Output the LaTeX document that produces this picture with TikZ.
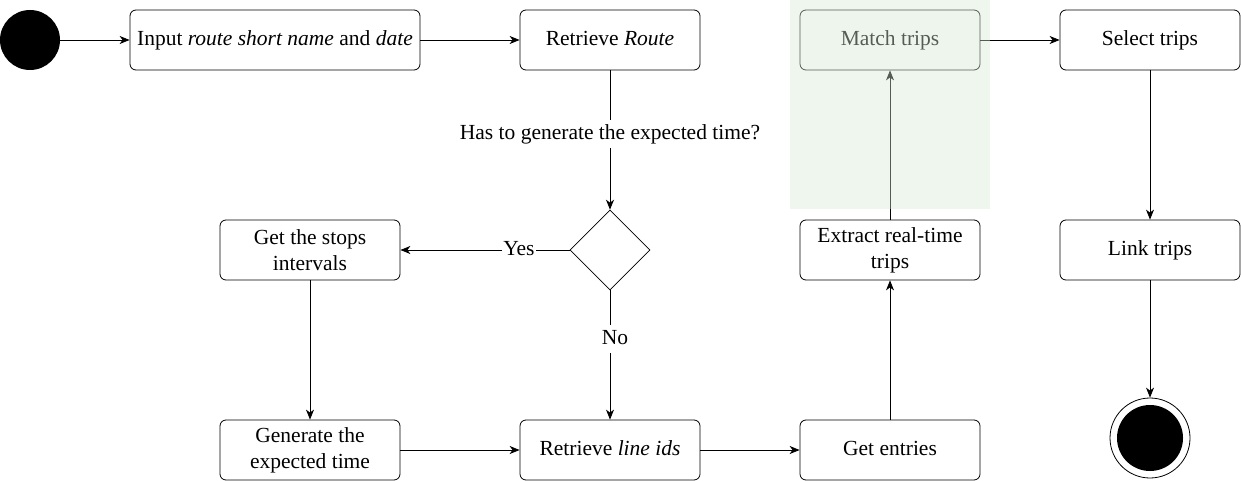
\documentclass[tikz,border=0pt]{standalone}
\usepackage{fontspec}
\setmainfont{Liberation Serif}
\usetikzlibrary{arrows.meta,shapes.geometric}
\definecolor{regiongreen}{RGB}{213,232,212}

\begin{document}
\begin{tikzpicture}[
    x=1pt, y=-1pt,
    act/.style={
      rectangle, rounded corners=6pt, draw=black, line width=0.8pt, fill=white,
      minimum width=180pt, minimum height=60pt,
      align=center, font=\fontsize{21.5}{26}\selectfont,
      inner sep=2pt
    },
    decision/.style={
      diamond, draw=black, line width=0.6pt, fill=white,
      minimum width=80pt, minimum height=80pt, inner sep=0pt
    },
    startnode/.style={
      circle, fill=black, minimum size=60pt, inner sep=0pt
    },
    endnode/.style={
      circle, draw=black, line width=0.8pt, fill=white,
      minimum size=80pt, inner sep=0pt,
      path picture={\fill[black] (path picture bounding box.center) circle (33pt);}
    },
    lbl/.style={fill=white, inner sep=1pt, font=\fontsize{21.5}{26}\selectfont},
    link/.style={-{Stealth[length=10pt,width=8pt,inset=3pt]}, line width=0.8pt, black}
  ]
    \useasboundingbox (0,0) rectangle (1241,481);

    \node[startnode] (start) at (30,40) {};
    \node[act, minimum width=290pt] (input) at (275,40) {\strut Input \textit{route short name} and \textit{date}};
    \node[act] (route)  at (610,40)  {\strut Retrieve \textit{Route}};
    \node[act] (match)  at (890,40)  {\strut Match trips};
    \node[act] (select) at (1150,40) {\strut Select trips};

    \node[decision] (check) at (610,250) {};
    \node[act] (stops)   at (310,250)  {Get the stops\\intervals};
    \node[act] (extract) at (890,250)  {Extract real-time\\trips};
    \node[act] (link)    at (1150,250) {\strut Link trips};

    \node[act] (generate) at (310,450) {Generate the\\expected time};
    \node[act] (lineids)  at (610,450) {\strut Retrieve \textit{line ids}};
    \node[act] (entries)  at (890,450) {\strut Get entries};
    \node[endnode] (stop) at (1150,438) {};

    \draw[link] (start) -- (input);
    \draw[link] (input) -- (route);
    \draw[link] (route) -- node[lbl, pos=0.457] {\strut Has to generate the expected time?} (check);
    \draw[link] (check) -- node[lbl, pos=0.3] {\strut Yes} (stops);
    \draw[link] (check) -- node[lbl, pos=0.377, xshift=5pt] {\strut No} (lineids);
    \draw[link] (stops) -- (generate);
    \draw[link] (generate) -- (lineids);
    \draw[link] (lineids) -- (entries);
    \draw[link] (entries) -- (extract);
    \draw[link] (extract) -- (match);
    \draw[link] (match) -- (select);
    \draw[link] (select) -- (link);
    \draw[link] (link) -- (stop);

    % highlighted region
    \fill[regiongreen, fill opacity=0.4] (790,0) rectangle (990,209);
  \end{tikzpicture}
\end{document}
